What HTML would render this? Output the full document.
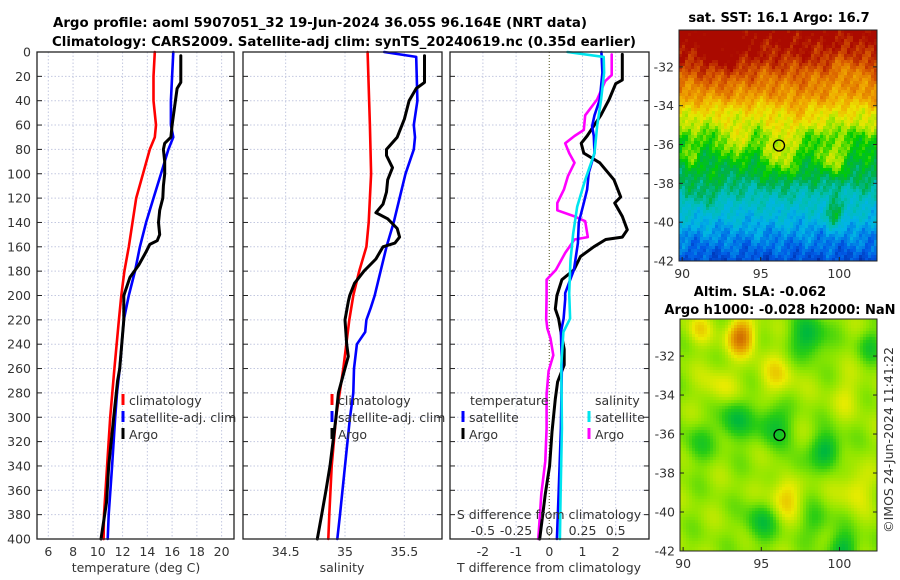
<!DOCTYPE html>
<html><head><meta charset="utf-8"><title>Argo profile</title>
<style>
html,body{margin:0;padding:0;background:#fff;}
svg{display:block;font-family:"DejaVu Sans","Liberation Sans",sans-serif;}
.tk{font-size:12.5px;fill:#333;}
.ttl{font-size:13px;font-weight:bold;fill:#000;}
</style></head>
<body>
<svg id="fig" width="900" height="580" viewBox="0 0 900 580" xmlns="http://www.w3.org/2000/svg">
<text class="ttl" x="320" y="27" text-anchor="middle" textLength="534" lengthAdjust="spacingAndGlyphs">Argo profile: aoml 5907051_32 19-Jun-2024 36.05S 96.164E (NRT data)</text>
<text class="ttl" x="344" y="46" text-anchor="middle" textLength="584" lengthAdjust="spacingAndGlyphs">Climatology: CARS2009. Satellite-adj clim: synTS_20240619.nc (0.35d earlier)</text>
<text class="ttl" x="779" y="22" text-anchor="middle">sat. SST: 16.1 Argo: 16.7</text>
<text class="ttl" x="760" y="296" text-anchor="middle">Altim. SLA: -0.062</text>
<text class="ttl" x="780" y="314" text-anchor="middle">Argo h1000: -0.028 h2000: NaN</text>
<text class="tk" x="0" y="0" transform="translate(893,440) rotate(-90)" text-anchor="middle" font-size="13">©IMOS 24-Jun-2024 11:41:22</text>
<g id="grids"></g><g id="maps"></g><g id="lines"></g><g id="frames"></g><g id="labels"></g>
</svg>
<script>
// ---------- data ----------
const tClimDepth = [0,20,40,60,70,80,100,120,140,160,180,200,220,260,300,340,380,400];
const tClimVal   = [14.6,14.5,14.5,14.7,14.6,14.2,13.65,13.1,12.8,12.5,12.15,11.9,11.7,11.34,11.0,10.75,10.5,10.47];
const tSatDepth  = [0,40,60,70,80,100,120,140,160,180,200,220,260,280,300,340,380,400];
const tSatVal    = [16.1,15.9,15.9,16.1,15.7,15.1,14.5,13.9,13.4,13.0,12.5,12.1,11.77,11.55,11.4,11.15,10.88,10.8];
const tArgoDepth = [3,25,30,45,60,70,75,80,90,100,110,120,130,140,150,155,158,165,175,185,200,220,260,270,300,340,370,400];
const tArgoVal   = [16.7,16.7,16.4,16.2,16.0,15.9,15.4,15.3,15.4,15.4,15.3,15.25,15.0,14.9,15.0,14.8,14.2,13.85,13.3,12.6,12.1,12.1,11.77,11.6,11.28,10.88,10.7,10.26];

const sClimDepth = [0,60,100,140,160,180,200,220,260,300,340,380,400];
const sClimVal   = [35.19,35.21,35.22,35.20,35.18,35.12,35.07,35.036,34.986,34.924,34.888,34.868,34.859];
const sSatDepth  = [0,4,40,60,70,80,100,120,140,160,180,200,210,220,230,240,260,280,300,340,380,400];
const sSatVal    = [35.33,35.60,35.61,35.58,35.59,35.58,35.51,35.46,35.41,35.35,35.30,35.25,35.217,35.18,35.17,35.10,35.076,35.07,35.042,35.0,34.958,34.935];
const sArgoDepth = [3,25,30,40,55,70,80,85,95,105,115,125,132,137,145,152,157,160,170,180,190,200,205,220,240,250,265,280,300,340,360,380,400];
const sArgoVal   = [35.67,35.67,35.60,35.54,35.50,35.44,35.35,35.35,35.40,35.36,35.35,35.32,35.26,35.36,35.44,35.46,35.42,35.32,35.26,35.16,35.08,35.04,35.028,35.0,35.014,35.028,34.986,34.944,34.924,34.874,34.84,34.804,34.767];

const dTSatDepth  = [0,17,39,52,61,69,83,99,113,124,140,157,179,198,203,219,230,257,309,363,400];
const dTSatVal    = [1.57,1.6,1.52,1.36,1.29,1.34,1.36,1.19,1.14,1.04,0.89,0.86,0.74,0.48,0.48,0.43,0.35,0.38,0.35,0.28,0.23];
const dTArgoDepth = [2,23,26,39,52,69,75,83,91,105,119,124,135,146,152,154,160,168,179,187,200,211,219,230,244,257,271,285,312,340,363,400];
const dTArgoVal   = [2.2,2.2,2.0,1.8,1.55,1.14,0.96,1.04,1.52,1.95,2.15,1.97,2.2,2.35,2.2,1.7,1.34,0.94,0.74,0.38,0.23,0.18,0.28,0.35,0.45,0.45,0.25,0.18,0.08,0.01,-0.12,-0.29];
const dSSatDepth  = [0,4,17,39,61,83,105,127,149,171,198,219,230,257,309,363,400];
const dSSatVal    = [0.137,0.41,0.413,0.39,0.36,0.34,0.27,0.21,0.18,0.16,0.15,0.157,0.106,0.09,0.095,0.085,0.08];
const dSArgoDepth = [2,19,24,39,52,64,69,75,83,91,102,113,124,130,135,139,152,154,165,179,187,200,219,227,235,249,262,281,309,336,363,400];
const dSArgoVal   = [0.47,0.47,0.42,0.36,0.27,0.26,0.19,0.12,0.15,0.19,0.14,0.11,0.06,0.06,0.19,0.27,0.29,0.19,0.12,0.05,-0.02,-0.02,-0.023,-0.015,0.008,0.03,-0.005,-0.02,-0.02,-0.03,-0.06,-0.083];

const depthTicks = [0,20,40,60,80,100,120,140,160,180,200,220,240,260,280,300,320,340,360,380,400];
const tTicks = [6,8,10,12,14,16,18,20];
const sTicks = [34.5,35,35.5];
const dTTicks = [-2,-1,0,1,2];
const dSTicks = [-0.5,-0.25,0,0.25,0.5];
const latTicks = [-32,-34,-36,-38,-40,-42];
const lonTicks = [90,95,100];
const argoLon = 96.164, argoLat = -36.05;

// ---------- scales ----------
const PT=52, PB=539;
const yD = d => PT + d*(PB-PT)/400;
const xT = t => 48.3 + (t-6)*12.38;
const xS = s => 345 + (s-35)*118.7;
const xD = t => 549.3 + t*33.2;
const xDS = s => xD(s*4);
const panels = [[37,234],[243,442],[450,649]];

const NS="http://www.w3.org/2000/svg";
function mk(tag, parent, attrs){const e=document.createElementNS(NS,tag);for(const k in attrs)e.setAttribute(k,attrs[k]);parent.appendChild(e);return e;}
const G = id => document.getElementById(id);

panels.forEach((p,i)=>{
  depthTicks.forEach(d=>{
    const l=mk('line',G('grids'),{x1:p[0],x2:p[1],y1:yD(d),y2:yD(d),stroke:'#c3c8e0','stroke-width':1,'stroke-dasharray':'1.5,2'});
    
    
    mk('line',G('frames'),{x1:p[0],x2:p[0]+5,y1:yD(d),y2:yD(d),stroke:'#222'});
    mk('line',G('frames'),{x1:p[1]-5,x2:p[1],y1:yD(d),y2:yD(d),stroke:'#222'});
  });
  const r=mk('rect',G('frames'),{x:p[0],y:PT,width:p[1]-p[0],height:PB-PT,fill:'none',stroke:'#222','stroke-width':1.3});
  
  
});
function vgrid(vals, fx, p, name){
  vals.forEach(v=>{
    const l=mk('line',G('grids'),{x1:fx(v),x2:fx(v),y1:PT,y2:PB,stroke:'#c3c8e0','stroke-width':1,'stroke-dasharray':'1.5,2'});
    
    
  });
}
vgrid(tTicks,xT,panels[0],'temperature-gridline');
vgrid(sTicks,xS,panels[1],'salinity-gridline');
vgrid(dTTicks.filter(v=>v!==0),xD,panels[2],'tdiff-gridline');
const zl=mk('line',G('grids'),{x1:xD(0),x2:xD(0),y1:PT,y2:PB,stroke:'#6b6b3a','stroke-width':1.2,'stroke-dasharray':'1,2'});



function txt(x,y,s,anchor,name,extra){
  const t=mk('text',G('labels'),Object.assign({x:x,y:y,'text-anchor':anchor,class:'tk'},extra||{}));
  t.textContent=s;
  
  
  return t;
}
depthTicks.forEach(d=>txt(31,yD(d)+4.5,String(d),'end','depth-tick-label'));
tTicks.forEach(v=>txt(xT(v),556,String(v),'middle','temperature-tick-label'));
sTicks.forEach(v=>txt(xS(v),556,String(v),'middle','salinity-tick-label'));
dTTicks.forEach(v=>txt(xD(v),556,String(v),'middle','tdiff-tick-label'));
dSTicks.forEach(v=>txt(xDS(v),535,String(v),'middle','sdiff-tick-label'));
txt(136,572,'temperature (deg C)','middle','temperature-axis-title',{'font-size':13.5});
txt(342,572,'salinity','middle','salinity-axis-title',{'font-size':13.5});
txt(549,572,'T difference from climatology','middle','tdiff-axis-title',{'font-size':13.5});
txt(549,519,'S difference from climatology','middle','sdiff-axis-title',{'font-size':13.5});

function series(xs, ds, fx, color, w, name){
  const pts = xs.map((v,i)=>fx(v).toFixed(1)+','+yD(ds[i]).toFixed(1)).join(' ');
  const pl=mk('polyline',G('lines'),{points:pts,fill:'none',stroke:color,'stroke-width':w,'stroke-linejoin':'round','stroke-linecap':'round'});
  
  
}
series(tClimVal,tClimDepth,xT,'#ff0000',2.6,'temperature-climatology-line');
series(tSatVal,tSatDepth,xT,'#0000ff',2.6,'temperature-satellite-line');
series(tArgoVal,tArgoDepth,xT,'#000',3,'temperature-argo-line');
series(sClimVal,sClimDepth,xS,'#ff0000',2.6,'salinity-climatology-line');
series(sSatVal,sSatDepth,xS,'#0000ff',2.6,'salinity-satellite-line');
series(sArgoVal,sArgoDepth,xS,'#000',3,'salinity-argo-line');
series(dSArgoVal,dSArgoDepth,xDS,'#ff00ff',2.6,'sdiff-argo-line');
series(dTArgoVal,dTArgoDepth,xD,'#000',3,'tdiff-argo-line');
series(dTSatVal,dTSatDepth,xD,'#0000ff',2.6,'tdiff-satellite-line');
series(dSSatVal,dSSatDepth,xDS,'#00e5ee',2.6,'sdiff-satellite-line');

function legend(x, y, color, label, name){
  const m=mk('rect',G('labels'),{x:x-1.5,y:y-11,width:3,height:11,fill:color});
  
  
  txt(x+6,y,label,'start',name,{'font-size':13.5,fill:'#111'});
}
legend(123,405,'#ff0000','climatology','legend-temp-climatology');
legend(123,422,'#0000ff','satellite-adj. clim','legend-temp-satellite');
legend(123,439,'#000','Argo','legend-temp-argo');
legend(332,405,'#ff0000','climatology','legend-sal-climatology');
legend(332,422,'#0000ff','satellite-adj. clim','legend-sal-satellite');
legend(332,439,'#000','Argo','legend-sal-argo');
txt(470,405,'temperature','start','legend-tdiff-header',{'font-size':13.5,fill:'#111'});
legend(463,422,'#0000ff','satellite','legend-tdiff-satellite');
legend(463,439,'#000','Argo','legend-tdiff-argo');
txt(595,405,'salinity','start','legend-sdiff-header',{'font-size':13.5,fill:'#111'});
legend(589,422,'#00e5ee','satellite','legend-sdiff-satellite');
legend(589,439,'#ff00ff','Argo','legend-sdiff-argo');

// ---------- maps ----------
function cmap(stops, v){
  if(v<=stops[0][0]) return stops[0][1];
  for(let i=1;i<stops.length;i++){
    if(v<=stops[i][0]){const a=stops[i-1],b=stops[i],f=(v-a[0])/(b[0]-a[0]);
      return a[1].map((c,k)=>Math.round(c+(b[1][k]-c)*f));}
  }
  return stops[stops.length-1][1];
}
const sstStops=[[0.12,[0,30,150]],[0.22,[0,90,230]],[0.32,[0,180,230]],[0.4,[0,190,180]],[0.46,[0,175,80]],[0.53,[0,205,0]],[0.6,[160,230,0]],[0.66,[235,230,0]],[0.74,[240,170,0]],[0.83,[220,100,0]],[0.93,[170,10,0]]];
const slaStops=[[0.25,[0,150,120]],[0.38,[0,185,60]],[0.47,[40,205,20]],[0.56,[140,230,0]],[0.66,[235,235,0]],[0.76,[230,160,0]],[0.88,[200,90,0]]];
function blob(lon,lat,c){const dx=lon-c[0],dy=lat-c[1];return c[2]*Math.exp(-(dx*dx+dy*dy)/(c[3]*c[3]));}
const latProf=[[-30,0.95],[-31.5,0.9],[-32.5,0.82],[-33.5,0.76],[-34.2,0.68],[-35,0.62],[-35.6,0.55],[-36.5,0.5],[-37.5,0.47],[-38.2,0.42],[-39,0.37],[-40,0.32],[-41,0.26],[-42,0.2]];
function prof(lat){for(let i=1;i<latProf.length;i++){if(lat>=latProf[i][0]){const a=latProf[i-1],b=latProf[i];return a[1]+(b[1]-a[1])*(lat-a[0])/(b[0]-a[0]);}}return 0.2;}
const sstBlobs=[[96.3,-36.4,0.14,1.2],[93.4,-35.9,0.12,0.8],[99.6,-36.7,0.14,0.8],[99.7,-39.6,0.15,0.6],[92.5,-31.3,0.06,1.6],[100.5,-32,-0.05,1.2],[91.5,-38.5,0.05,1],[90.5,-36.5,0.08,0.6],[97.5,-34.5,0.04,1]];
const slaBlobs=[[93.7,-31,0.26,0.9],[96,-33,0.1,1.2],[98,-31,-0.2,1.1],[93.3,-35.3,-0.18,1.0],[95.8,-35.5,-0.16,1.1],[99.2,-36.8,-0.2,0.9],[95,-40.5,-0.16,1.0],[100.3,-41.9,-0.18,0.9],[91,-36.5,-0.1,1.0],[96.5,-39.2,0.13,1.1],[92.3,-33.5,0.08,1.1],[101,-38.8,0.1,1.0],[100.5,-34,0.06,1.1],[91,-30.6,0.1,0.8],[97.3,-37.7,-0.07,0.8],[102,-31.5,-0.12,0.8],[98.5,-40.5,-0.1,0.9]];
function drawMap(box, lon0, lon1, lat0, lat1, fn, stops, name){
  const g=mk('g',G('maps'),{});
  
  
  const cs=3, [x0,y0,x1,y1]=box;
  let html='';
  for(let y=y0;y<y1;y+=cs){for(let x=x0;x<x1;x+=cs){
    const lon=lon0+(x+cs/2-x0)/(x1-x0)*(lon1-lon0), lat=lat0+(y+cs/2-y0)/(y1-y0)*(lat1-lat0);
    const c=cmap(stops,fn(lon,lat));
    html+='<rect x="'+x+'" y="'+y+'" width="'+Math.min(cs,x1-x)+'" height="'+Math.min(cs,y1-y)+'" fill="rgb('+c.join(',')+')"/>';
  }}
  g.innerHTML=html;
}
const sstFn=(lon,lat)=>{let v=prof(lat);sstBlobs.forEach(b=>v+=blob(lon,lat,b));
  v+=0.03*Math.sin(lon*3.1+lat*1.7)*Math.cos(lat*2.3-lon*0.9)+0.025*Math.sin(lon*7.3-lat*5.1)+0.015*Math.sin(lon*13.7+lat*11.3);return v;};
const slaFn=(lon,lat)=>{let v=0.57;slaBlobs.forEach(b=>v+=blob(lon,lat,b));v+=0.04*Math.sin(lon*1.9+lat*1.1)*Math.cos(lat*1.6-lon*0.7);return v;};
const M1=[679,30,877,261], M2=[680,319,877,551];
drawMap(M1,89.8,102.4,-30.1,-42.0,sstFn,sstStops,'sst-map');
drawMap(M2,89.8,102.4,-30.1,-42.0,slaFn,slaStops,'sla-map');
function mapAxes(box, name){
  const [x0,y0,x1,y1]=box;
  const lx=l=>x0+(l-89.8)/(102.4-89.8)*(x1-x0), ly=l=>y0+(l+30.1)/(-42+30.1)*(y1-y0);
  const r=mk('rect',G('frames'),{x:x0,y:y0,width:x1-x0,height:y1-y0,fill:'none',stroke:'#222','stroke-width':1});
  
  
  latTicks.forEach(l=>{mk('line',G('frames'),{x1:x1,x2:x1-4,y1:ly(l),y2:ly(l),stroke:'#222'});mk('line',G('frames'),{x1:x0,x2:x0+4,y1:ly(l),y2:ly(l),stroke:'#222'});
    txt(x0-5,ly(l)+4.5,String(l),'end',name+'-lat-label');});
  lonTicks.forEach(l=>{mk('line',G('frames'),{x1:lx(l),x2:lx(l),y1:y1,y2:y1-4,stroke:'#222'});
    txt(lx(l),y1+17,String(l),'middle',name+'-lon-label',{'font-size':13.5});});
  const c=mk('circle',G('frames'),{cx:lx(argoLon),cy:ly(argoLat),r:5.5,fill:'none',stroke:'#000','stroke-width':1.3});
  
  
}
mapAxes(M1,'sst-map');
mapAxes(M2,'sla-map');
</script>
</body></html>
